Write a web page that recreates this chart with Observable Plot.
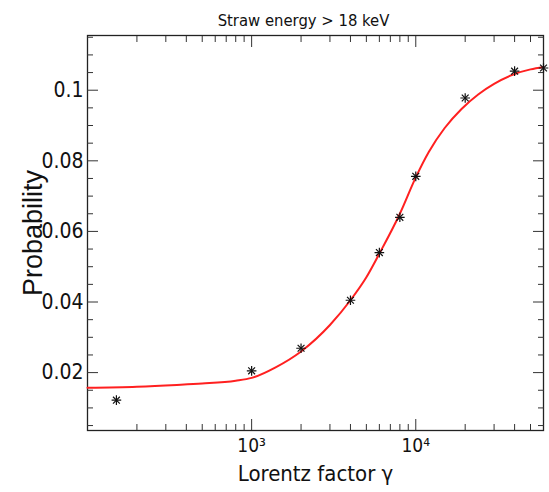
<!DOCTYPE html>
<html>
<head>
<meta charset="utf-8">
<script src="https://cdn.jsdelivr.net/npm/d3@7"></script>
<script src="https://cdn.jsdelivr.net/npm/@observablehq/plot@0.6"></script>
<style>
  body { margin: 0; background: #fff; }
  svg { font-family: "Liberation Sans Narrow", "DejaVu Sans Condensed", "Liberation Sans", Arial, sans-serif; }
</style>
</head>
<body>
<div id="chart"></div>
<script>
// Measured points (Lorentz factor, probability)
const gamma = [150, 1000, 2000, 4000, 6000, 8000, 10000, 20000, 40000, 60000];
const prob = [0.0122, 0.0205, 0.0269, 0.0405, 0.054, 0.064, 0.0756, 0.0978, 0.1054, 0.1063];

// Fit curve samples
const fitGamma = [100, 200, 350, 500, 800, 1000, 1400, 2000, 3000, 4000, 5000, 6000, 8000, 10000, 12000, 15000, 19000, 24000, 30000, 40000, 50000, 60000];
const fitProb = [0.0157, 0.0160, 0.0165, 0.0169, 0.0177, 0.0185, 0.0215, 0.0260, 0.0335, 0.0405, 0.0470, 0.0537, 0.0650, 0.0753, 0.0825, 0.0893, 0.0947, 0.0988, 0.1018, 0.1046, 0.1059, 0.1066];

// Axis ticks
const yMajor = [0.02, 0.04, 0.06, 0.08, 0.1];
const yMinor = [0.005, 0.01, 0.015, 0.025, 0.03, 0.035, 0.045, 0.05, 0.055, 0.065, 0.07, 0.075, 0.085, 0.09, 0.095, 0.105, 0.11, 0.115];
const xMajor = [1000, 10000];
const xMinor = [200, 300, 400, 500, 600, 700, 800, 900, 2000, 3000, 4000, 5000, 6000, 7000, 8000, 9000, 20000, 30000, 40000, 50000];
const xLabels = {1000: "10³", 10000: "10⁴"};

const title = "Straw energy > 18 keV";
const xTitle = "Lorentz factor γ";
const yTitle = "Probability";

const points = gamma.map((g, i) => ({g, p: prob[i]}));
const fit = fitGamma.map((g, i) => ({g, p: fitProb[i]}));

const tickStroke = "#333";
const chart = Plot.plot({
  width: 549,
  height: 492,
  marginLeft: 87,
  marginRight: 6,
  marginTop: 35,
  marginBottom: 62,
  style: {fontSize: "20px", color: "#111"},
  x: {type: "log", domain: [100, 60000], axis: null},
  y: {domain: [0.0036, 0.1155], axis: null},
  marks: [
    Plot.frame({stroke: "#222", strokeWidth: 1.3}),
    // bottom axis
    Plot.axisX(xMajor, {anchor: "bottom", label: null, tickSize: -11, tickPadding: 19, stroke: tickStroke, tickFormat: d => xLabels[d], fontSize: 19}),
    Plot.axisX(xMinor, {anchor: "bottom", label: null, tickSize: -6, text: null, stroke: tickStroke}),
    Plot.axisX(xMajor, {anchor: "top", label: null, tickSize: -11, text: null, stroke: tickStroke}),
    Plot.axisX(xMinor, {anchor: "top", label: null, tickSize: -6, text: null, stroke: tickStroke}),
    // left axis
    Plot.axisY(yMajor, {anchor: "left", label: null, tickSize: -11, tickPadding: 15, stroke: tickStroke, tickFormat: d => String(+d.toFixed(3)), fontSize: 21}),
    Plot.axisY(yMinor, {anchor: "left", label: null, tickSize: -6, text: null, stroke: tickStroke}),
    Plot.axisY(yMajor, {anchor: "right", label: null, tickSize: -11, text: null, stroke: tickStroke}),
    Plot.axisY(yMinor, {anchor: "right", label: null, tickSize: -6, text: null, stroke: tickStroke}),
    // fit curve
    Plot.line(fit, {x: "g", y: "p", stroke: "#ff2020", strokeWidth: 2, curve: "monotone-x"}),
    // data points (star markers)
    Plot.dot(points, {x: "g", y: "p", symbol: "plus", r: 3.2, stroke: "#111", strokeWidth: 1.2}),
    Plot.dot(points, {x: "g", y: "p", symbol: "times", r: 3.2, stroke: "#111", strokeWidth: 1.2}),
    // titles
    Plot.text([title], {frameAnchor: "top", dx: -12, dy: -21, fontSize: 16.5, fill: "#111"}),
    Plot.text([xTitle], {frameAnchor: "bottom", dy: 50, fontSize: 22, fill: "#111"}),
    Plot.text([yTitle], {frameAnchor: "left", dx: -54, rotate: -90, textAnchor: "middle", fontSize: 27, fill: "#111", fontFamily: "Liberation Sans, Arial, sans-serif"})
  ]
});
document.getElementById("chart").appendChild(chart);
</script>
</body>
</html>
